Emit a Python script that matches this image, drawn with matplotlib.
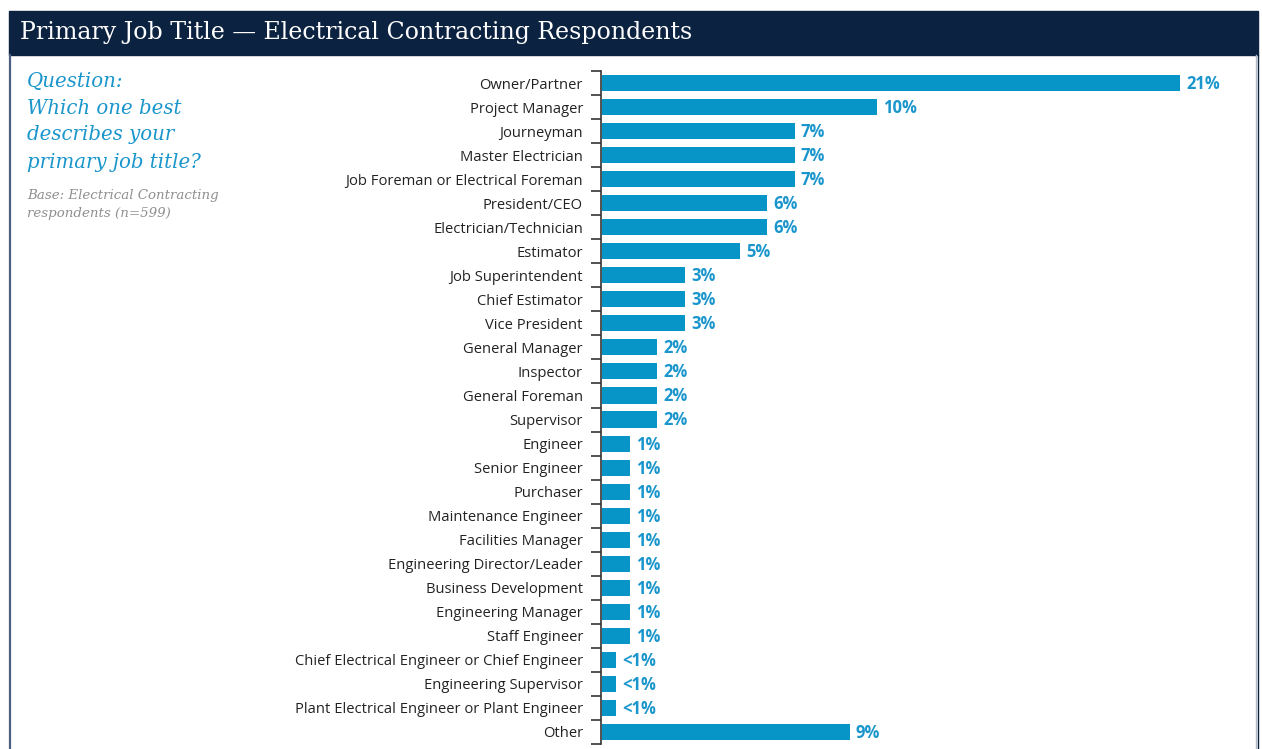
import matplotlib.pyplot as plt
from matplotlib.patches import Rectangle
from matplotlib.lines import Line2D

# survey results, top to bottom
titles = [
    "Owner/Partner", "Project Manager", "Journeyman", "Master Electrician",
    "Job Foreman or Electrical Foreman", "President/CEO", "Electrician/Technician",
    "Estimator", "Job Superintendent", "Chief Estimator", "Vice President",
    "General Manager", "Inspector", "General Foreman", "Supervisor", "Engineer",
    "Senior Engineer", "Purchaser", "Maintenance Engineer", "Facilities Manager",
    "Engineering Director/Leader", "Business Development", "Engineering Manager",
    "Staff Engineer", "Chief Electrical Engineer or Chief Engineer",
    "Engineering Supervisor", "Plant Electrical Engineer or Plant Engineer", "Other",
]
shares = [21, 10, 7, 7, 7, 6, 6, 5, 3, 3, 3, 2, 2, 2, 2, 1, 1, 1, 1, 1, 1, 1, 1, 1,
          0.5, 0.5, 0.5, 9]
share_labels = ["21%", "10%", "7%", "7%", "7%", "6%", "6%", "5%", "3%", "3%", "3%",
                "2%", "2%", "2%", "2%", "1%", "1%", "1%", "1%", "1%", "1%", "1%",
                "1%", "1%", "<1%", "<1%", "<1%", "9%"]

NAVY = "#0b2241"
BLUE = "#0795c8"
LABEL_BLUE = "#1a96cc"

W, H = 1262, 749
fig = plt.figure(figsize=(W / 100, H / 100), dpi=100)

# header band and frame
fig.patches.append(Rectangle((9 / W, 1 - 55 / H), 1249 / W, 44 / H,
                             transform=fig.transFigure, color=NAVY, zorder=0))
fig.lines.append(Line2D([10 / W, 10 / W], [0, 1 - 55 / H], transform=fig.transFigure,
                        color="#4d5f80", lw=1.6))
fig.lines.append(Line2D([1256 / W, 1256 / W], [0, 1 - 55 / H], transform=fig.transFigure,
                        color="#b4bac6", lw=1.0))
fig.lines.append(Line2D([1258 / W, 1258 / W], [0, 1 - 55 / H], transform=fig.transFigure,
                        color=NAVY, lw=1.0))

fig.text(20 / W, 1 - 33 / H, "Primary Job Title \u2014 Electrical Contracting Respondents",
         color="white", fontsize=17.1, family="DejaVu Serif", va="center", ha="left")

question = ["Question:", "Which one best", "describes your", "primary job title?"]
for i, line in enumerate(question):
    fig.text(27 / W, 1 - (81 + 27 * i) / H, line, color=LABEL_BLUE, fontsize=14.2,
             family="DejaVu Serif", style="italic", va="center", ha="left")
for i, line in enumerate(["Base: Electrical Contracting", "respondents (n=599)"]):
    fig.text(27 / W, 1 - (195 + 18 * i) / H, line, color="#8f8f8f", fontsize=9.6,
             family="DejaVu Serif", style="italic", va="center", ha="left")

# bar chart
ax = fig.add_axes([601 / W, 5 / H, 660 / W, 673 / H])
ypos = list(range(len(titles)))
ax.barh(ypos, shares, height=0.67, color=BLUE, left=0.05)
for y, v, lab in zip(ypos, shares, share_labels):
    ax.text(v + 0.05 + 0.22, y + 0.04, lab, color=LABEL_BLUE, fontsize=12,
            fontweight="bold", family="Open Sans", va="center", ha="left")

ax.set_xlim(0, 24)
ax.set_ylim(len(titles) - 0.5, -0.5)
ax.set_yticks(ypos)
ax.set_yticklabels(titles, family="Open Sans", fontsize=10.6, color="#222222")
ax.set_yticks([i - 0.5 for i in range(len(titles) + 1)], minor=True)
ax.tick_params(axis="y", which="major", length=0, pad=13)
ax.tick_params(axis="y", which="minor", length=7, width=1.2, color="#333333")
ax.set_xticks([])
for s in ("top", "right", "bottom"):
    ax.spines[s].set_visible(False)
ax.spines["left"].set_color("#333333")
ax.spines["left"].set_linewidth(1.2)

fig.savefig("out.png", dpi=100)
